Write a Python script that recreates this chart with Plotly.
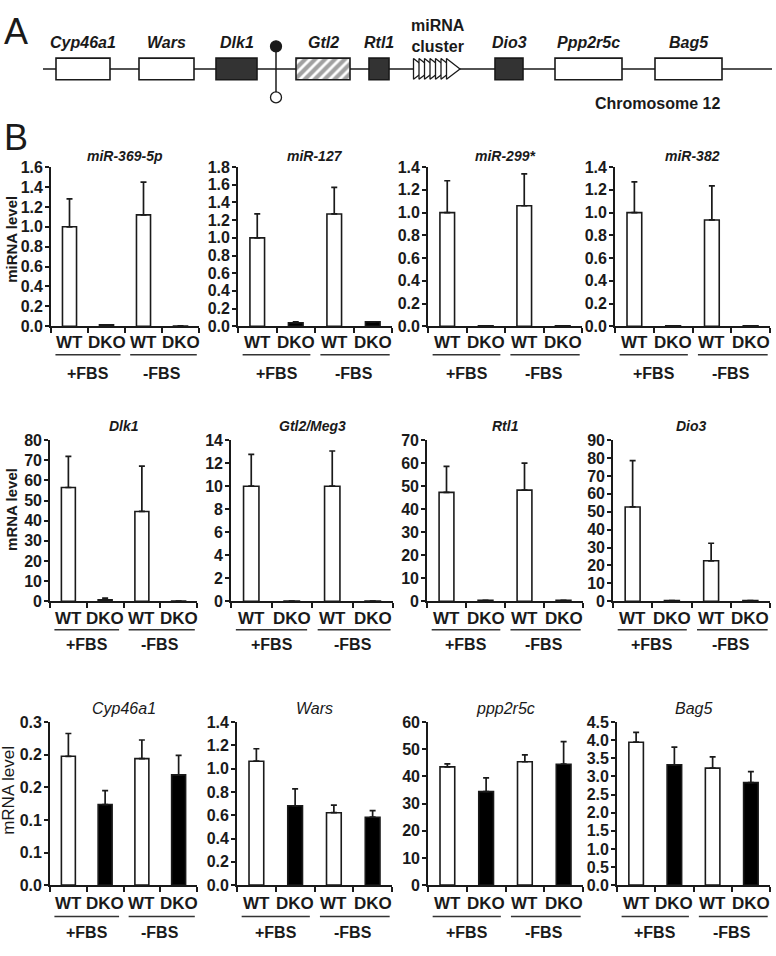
import plotly.graph_objects as go

# ---------------- data ----------------
groups = ["WT", "DKO", "WT", "DKO"]
conditions = ["+FBS", "-FBS"]

row1_titles = ["miR-369-5p", "miR-127", "miR-299*", "miR-382"]
row1_values = [[1.00, 0.015, 1.12, 0.003],
               [1.00, 0.040, 1.27, 0.050],
               [1.00, 0.003, 1.06, 0.003],
               [1.00, 0.003, 0.935, 0.003]]
row1_errors = [[0.28, 0.0, 0.33, 0.0],
               [0.27, 0.010, 0.30, 0.0],
               [0.28, 0.0, 0.28, 0.0],
               [0.27, 0.0, 0.30, 0.0]]
row1_ymax = [1.6, 1.8, 1.4, 1.4]
row1_dtick = [0.2, 0.2, 0.2, 0.2]

row2_titles = ["Dlk1", "Gtl2/Meg3", "Rtl1", "Dio3"]
row2_values = [[56.5, 0.7, 44.6, 0.1],
               [10.0, 0.02, 10.0, 0.02],
               [47.3, 0.4, 48.3, 0.4],
               [52.7, 0.4, 22.6, 0.4]]
row2_errors = [[15.5, 0.9, 22.5, 0.0],
               [2.77, 0.0, 3.06, 0.0],
               [11.3, 0.0, 11.7, 0.0],
               [25.9, 0.0, 9.8, 0.0]]
row2_ymax = [80, 14, 70, 90]
row2_dtick = [10, 2, 10, 10]

row3_titles = ["Cyp46a1", "Wars", "ppp2r5c", "Bag5"]
row3_values = [[0.1975, 0.1235, 0.194, 0.169],
               [1.064, 0.681, 0.622, 0.583],
               [43.5, 34.4, 45.4, 44.5],
               [3.945, 3.32, 3.23, 2.83]]
row3_errors = [[0.035, 0.0215, 0.0285, 0.030],
               [0.107, 0.146, 0.064, 0.056],
               [1.1, 5.1, 2.5, 8.3],
               [0.27, 0.49, 0.31, 0.30]]
row3_ymax = [0.25, 1.4, 60, 4.5]
row3_dtick = [0.05, 0.2, 10, 0.5]
cyp_tickvals = [0.0, 0.05, 0.10, 0.15, 0.20, 0.25]
cyp_ticktext = ["0.0", "0.1", "0.1", "0.2", "0.2", "0.3"]

# gene map (schematic units along chromosome 12)
gene_names = ["Cyp46a1", "Wars", "Dlk1", "Gtl2", "Rtl1", "Dio3", "Ppp2r5c", "Bag5"]
gene_start = [13, 96, 173, 253, 326, 452, 512, 612]
gene_end = [67, 151, 214, 307, 346, 480, 579, 679]
gene_kind = ["open", "open", "dark", "hatched", "dark", "dark", "open", "open"]
chrom_start, chrom_end = 0, 729
imprint_site = 233
mirna_positions = [375, 380.5, 386, 391.5, 397, 402.5, 408]
mirna_label = "miRNA<br>cluster"
chrom_label = "Chromosome 12"

# ---------------- layout helpers ----------------
W, H = 776, 956
FONT = "Liberation Sans, Arial, Helvetica, sans-serif"
INK = "#1a1a1a"

def px_x(p):
    return p / W

def px_y(p):
    return 1 - p / H

rows = [
    dict(titles=row1_titles, values=row1_values, errors=row1_errors, ymax=row1_ymax, dtick=row1_dtick,
         xdom=[(51, 199), (238, 392), (428, 582), (615, 770)], ydom=(162, 324),
         title_y=151, label_y=341, line_y=353, cond_y=372, ytitle="miRNA level", ytitle_y=236,
         title_bold=True, ytitle_bold=True, dko_color="black"),
    dict(titles=row2_titles, values=row2_values, errors=row2_errors, ymax=row2_ymax, dtick=row2_dtick,
         xdom=[(50, 197), (231, 393), (427, 583), (613, 770)], ydom=(440, 604),
         title_y=426, label_y=622, line_y=633, cond_y=648, ytitle="mRNA level", ytitle_y=511,
         title_bold=True, ytitle_bold=True, dko_color="black"),
    dict(titles=row3_titles, values=row3_values, errors=row3_errors, ymax=row3_ymax, dtick=row3_dtick,
         xdom=[(50, 197), (237, 392), (428, 583), (617, 770)], ydom=(727, 893),
         title_y=713, label_y=912, line_y=925, cond_y=941, ytitle="mRNA level", ytitle_y=797,
         title_bold=False, ytitle_bold=False, dko_color="black"),
]

fig = go.Figure()
layout = dict(width=W, height=H, margin=dict(l=0, r=0, t=0, b=0),
              paper_bgcolor="white", plot_bgcolor="white", showlegend=False,
              font=dict(family=FONT, color=INK), barmode="overlay")
annotations = []
shapes = []

pair_spans = [(-0.38, 1.38), (1.64, 3.44)]
cond_centers = [0.5, 2.5]
xpos = [0, 1, 2, 3]

k = 0
for r in rows:
    for j in range(4):
        k += 1
        xa = "x" if k == 1 else f"x{k}"
        ya = "y" if k == 1 else f"y{k}"
        xkey = "xaxis" if k == 1 else f"xaxis{k}"
        ykey = "yaxis" if k == 1 else f"yaxis{k}"
        vals = r["values"][j]
        errs = r["errors"][j]
        colors = ["white", r["dko_color"], "white", r["dko_color"]]
        fig.add_trace(go.Bar(
            x=xpos, y=vals, width=0.38, xaxis=xa, yaxis=ya,
            marker=dict(color=colors, line=dict(color=INK, width=1.6)),
            error_y=dict(type="data", array=errs, arrayminus=[0, 0, 0, 0], symmetric=False,
                         color=INK, thickness=1.7, width=3),
        ))
        x0, x1 = r["xdom"][j]
        y0, y1 = r["ydom"]
        layout[xkey] = dict(domain=[px_x(x0), px_x(x1)], range=[-0.5, 3.5], anchor=ya,
                            tickvals=[-0.5, 0.5, 1.5, 2.5, 3.5], ticks="outside", ticklen=5,
                            tickwidth=1.5, tickcolor=INK, showticklabels=False,
                            showline=True, linecolor=INK, linewidth=1.7,
                            showgrid=False, zeroline=False, fixedrange=True)
        yax = dict(domain=[px_y(y1), px_y(y0)], range=[0, r["ymax"][j]], anchor=xa,
                   ticks="outside", ticklen=4, tickwidth=1.5, tickcolor=INK,
                   showline=True, linecolor=INK, linewidth=1.7, showgrid=False, zeroline=False,
                   tickfont=dict(family=FONT, size=16, color=INK, weight="bold"),
                   ticklabelstandoff=-1, fixedrange=True)
        if k == 9:
            yax.update(tickmode="array", tickvals=cyp_tickvals, ticktext=cyp_ticktext)
        else:
            yax.update(tickmode="linear", tick0=0, dtick=r["dtick"][j],
                       tickformat=".1f" if r["dtick"][j] < 1 else "d")
        layout[ykey] = yax

        # panel title
        t = r["titles"][j]
        annotations.append(dict(text=(f"<b><i>{t}</i></b>" if r["title_bold"] else f"<i>{t}</i>"),
                                xref=f"{xa} domain", x=0.5, yref="paper", y=px_y(r["title_y"]),
                                showarrow=False, xanchor="center", yanchor="middle",
                                font=dict(size=14 if r["title_bold"] else 16, family=FONT, color=INK)))
        # group labels
        for xi, g in zip(xpos, groups):
            annotations.append(dict(text=f"<b>{g}</b>", xref=xa, x=xi, yref="paper",
                                    y=px_y(r["label_y"]), showarrow=False, xanchor="center",
                                    yanchor="middle", font=dict(size=17, family=FONT, color=INK)))
        for (sa, sb), cc, cname in zip(pair_spans, cond_centers, conditions):
            shapes.append(dict(type="line", xref=xa, yref="paper", x0=sa, x1=sb,
                               y0=px_y(r["line_y"]), y1=px_y(r["line_y"]),
                               line=dict(color="#333333", width=1.6)))
            annotations.append(dict(text=f"<b>{cname}</b>", xref=xa, x=cc, yref="paper",
                                    y=px_y(r["cond_y"]), showarrow=False, xanchor="center",
                                    yanchor="middle", font=dict(size=16, family=FONT, color=INK)))
    # y-axis title for the row
    yt = r["ytitle"]
    annotations.append(dict(text=(f"<b>{yt}</b>" if r["ytitle_bold"] else yt),
                            xref="paper", x=px_x(12 if r["ytitle_bold"] else 9), yref="paper",
                            y=px_y(r["ytitle_y"]),
                            textangle=-90, showarrow=False, xanchor="center", yanchor="middle",
                            font=dict(size=15 if r["ytitle_bold"] else 17, family=FONT, color=INK)))

# ---------------- panel A: gene map ----------------
layout["xaxis13"] = dict(domain=[0, 1], range=[-43, 733], anchor="y13", visible=False, fixedrange=True)
layout["yaxis13"] = dict(domain=[px_y(110), 1], range=[-48, 62], anchor="x13", visible=False, fixedrange=True)

shapes.append(dict(type="line", xref="x13", yref="y13", x0=chrom_start, x1=chrom_end, y0=0, y1=0,
                   layer="below", line=dict(color=INK, width=1.5)))

fill = {"open": "white", "dark": "#333333", "hatched": "white"}
patt = {"open": "", "dark": "", "hatched": "/"}
fig.add_trace(go.Bar(
    y=[0] * len(gene_names), x=[e - s for s, e in zip(gene_start, gene_end)], base=gene_start,
    orientation="h", width=22, xaxis="x13", yaxis="y13",
    marker=dict(color=[fill[g] for g in gene_kind],
                line=dict(color=INK, width=1.6),
                pattern=dict(shape=[patt[g] for g in gene_kind], fgcolor="black", bgcolor="white",
                             size=7, solidity=0.6)),
))
fig.add_trace(go.Scatter(
    x=mirna_positions, y=[0] * len(mirna_positions), mode="markers", xaxis="x13", yaxis="y13",
    marker=dict(symbol="triangle-right", size=18, color="white", line=dict(color=INK, width=1.3)),
))
fig.add_trace(go.Scatter(
    x=[imprint_site, imprint_site], y=[23, -29], mode="lines+markers", xaxis="x13", yaxis="y13",
    line=dict(color=INK, width=1.5),
    marker=dict(symbol="circle", size=11, color=[INK, "white"], line=dict(color=INK, width=1.3)),
))
for name, s, e in zip(gene_names, gene_start, gene_end):
    annotations.append(dict(text=f"<b><i>{name}</i></b>", xref="x13", yref="y13", x=(s + e) / 2, y=27,
                            showarrow=False, xanchor="center", yanchor="middle",
                            font=dict(size=16, family=FONT, color=INK)))
annotations.append(dict(text=f"<b>{mirna_label}</b>", xref="x13", yref="y13",
                        x=(mirna_positions[0] + mirna_positions[-1]) / 2 + 3, y=33,
                        showarrow=False, xanchor="center", yanchor="middle",
                        font=dict(size=16, family=FONT, color=INK)))
annotations.append(dict(text=f"<b>{chrom_label}</b>", xref="x13", yref="y13", x=614, y=-35,
                        showarrow=False, xanchor="center", yanchor="middle",
                        font=dict(size=16, family=FONT, color=INK)))

# panel letters
annotations.append(dict(text="A", xref="paper", yref="paper", x=px_x(16), y=px_y(24),
                        showarrow=False, xanchor="center", yanchor="middle",
                        font=dict(size=36, family=FONT, color=INK)))
annotations.append(dict(text="B", xref="paper", yref="paper", x=px_x(16), y=px_y(132),
                        showarrow=False, xanchor="center", yanchor="middle",
                        font=dict(size=36, family=FONT, color=INK)))

layout["annotations"] = annotations
layout["shapes"] = shapes
fig.update_layout(**layout)

fig.write_html("out.html", config={"displayModeBar": False},
               post_script="document.body.style.margin='0';document.body.style.overflow='hidden';")
